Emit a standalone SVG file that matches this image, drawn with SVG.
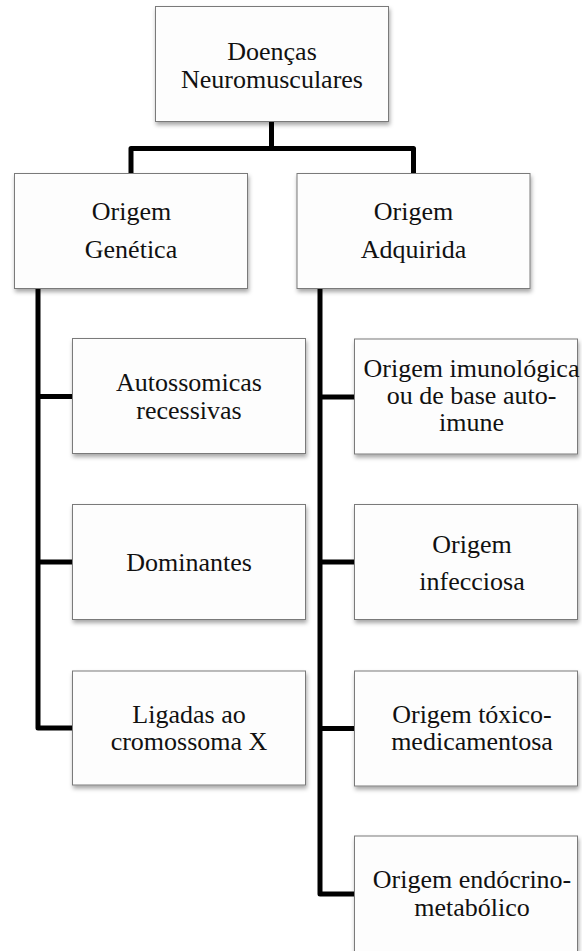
<svg xmlns="http://www.w3.org/2000/svg" width="582" height="951" viewBox="0 0 582 951">
<defs>
<filter id="sh" x="-10%" y="-10%" width="120%" height="130%">
<feDropShadow dx="1" dy="3" stdDeviation="2" flood-color="#000" flood-opacity="0.35"/>
</filter>
<style>
.box{fill:#fdfdfd;stroke:#7a7a7a;stroke-width:1;filter:url(#sh)}
.t{font-family:"Liberation Serif","Times New Roman",serif;font-size:26px;fill:#111;text-anchor:middle}
.c{fill:none;stroke:#000;stroke-width:5;stroke-linejoin:round}
</style>
</defs>
<rect width="582" height="951" fill="#fff"/>
<g id="connectors">
<path class="c" d="M271.5,121 V148.5"/>
<path class="c" d="M131,173 V148.5 H413.5 V173"/>
<path class="c" d="M38,288 V728 H72 M38,396.5 H72 M38,562 H72"/>
<path class="c" d="M320,288 V894 H354 M320,397 H354 M320,562 H354 M320,728.5 H354"/>
</g>
<g id="n-root">
<rect class="box" x="155.5" y="6.5" width="233" height="115"/>
<text class="t" x="272" y="60">Doenças</text>
<text class="t" x="272" y="87.5">Neuromusculares</text>
</g>
<g id="n-genetica">
<rect class="box" x="14.5" y="173.5" width="233" height="115"/>
<text class="t" x="131.5" y="220">Origem</text>
<text class="t" x="131" y="257.5">Genética</text>
</g>
<g id="n-adquirida">
<rect class="box" x="297" y="173.5" width="233" height="115"/>
<text class="t" x="413.5" y="220">Origem</text>
<text class="t" x="413.5" y="257.5">Adquirida</text>
</g>
<g id="n-autossomicas">
<rect class="box" x="72.5" y="338.5" width="233" height="115"/>
<text class="t" x="189" y="391">Autossomicas</text>
<text class="t" x="189" y="419">recessivas</text>
</g>
<g id="n-dominantes">
<rect class="box" x="72.5" y="504.5" width="233" height="115"/>
<text class="t" x="189" y="571">Dominantes</text>
</g>
<g id="n-ligadas">
<rect class="box" x="72.5" y="671" width="233" height="114"/>
<text class="t" x="189" y="722.5">Ligadas ao</text>
<text class="t" x="189" y="750">cromossoma X</text>
</g>
<g id="n-imunologica">
<rect class="box" x="354.5" y="339" width="223" height="115"/>
<text class="t" x="471.5" y="377">Origem imunológica</text>
<text class="t" x="471.5" y="404">ou de base auto-</text>
<text class="t" x="471.5" y="431">imune</text>
</g>
<g id="n-infecciosa">
<rect class="box" x="354.5" y="504.5" width="223" height="115"/>
<text class="t" x="472" y="552.5">Origem</text>
<text class="t" x="472" y="590">infecciosa</text>
</g>
<g id="n-toxico">
<rect class="box" x="354.5" y="671" width="223" height="115"/>
<text class="t" x="472" y="722.5">Origem tóxico-</text>
<text class="t" x="472" y="750">medicamentosa</text>
</g>
<g id="n-endocrino">
<rect class="box" x="354.5" y="836" width="223" height="117"/>
<text class="t" x="472" y="887.5">Origem endócrino-</text>
<text class="t" x="472" y="915.5">metabólico</text>
</g>
</svg>
